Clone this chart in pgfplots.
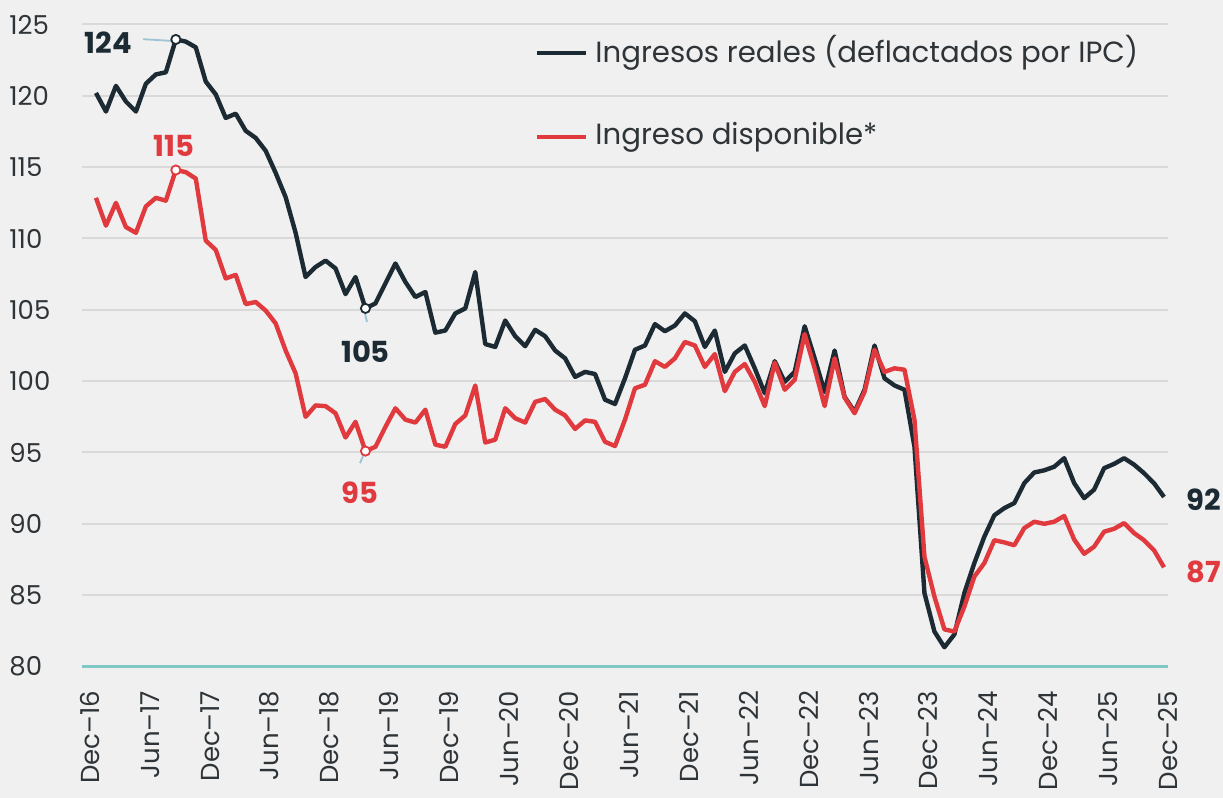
\documentclass[border=0pt]{standalone}
\usepackage{pgfplots}
\usepackage{pgfplotstable}
\pgfplotsset{compat=1.18}
\usepackage{fontspec}
\setmainfont{Poppins}
\definecolor{bg}{HTML}{F0F0F0}
\definecolor{dk}{HTML}{1C2B33}
\definecolor{rd}{HTML}{E03A3E}
\definecolor{gridc}{HTML}{D9D9D9}
\definecolor{tealc}{HTML}{80C8C6}
\definecolor{lead}{HTML}{9DC3D4}
\definecolor{txt}{HTML}{2E3438}

\pgfplotstableread{
i real disp
0 120.2 112.85
1 118.9 110.9
2 120.7 112.5
3 119.6 110.8
4 118.9 110.4
5 120.85 112.25
6 121.5 112.85
7 121.65 112.65
8 123.95 114.8
9 123.8 114.65
10 123.4 114.2
11 121.0 109.85
12 120.1 109.2
13 118.45 107.2
14 118.75 107.45
15 117.55 105.4
16 117.05 105.55
17 116.15 104.95
18 114.6 104.05
19 112.9 102.15
20 110.4 100.55
21 107.3 97.5
22 108.0 98.3
23 108.45 98.25
24 107.9 97.75
25 106.1 96.05
26 107.3 97.15
27 105.1 95.1
28 105.45 95.4
29 106.85 96.8
30 108.25 98.1
31 106.95 97.3
32 105.9 97.1
33 106.25 98.0
34 103.4 95.55
35 103.55 95.4
36 104.75 97.0
37 105.1 97.6
38 107.65 99.7
39 102.6 95.7
40 102.4 95.9
41 104.25 98.1
42 103.15 97.4
43 102.45 97.1
44 103.6 98.55
45 103.15 98.75
46 102.15 98.0
47 101.6 97.6
48 100.3 96.65
49 100.65 97.25
50 100.5 97.15
51 98.7 95.75
52 98.4 95.45
53 100.2 97.3
54 102.2 99.5
55 102.5 99.75
56 104.0 101.4
57 103.5 101.0
58 103.9 101.6
59 104.75 102.75
60 104.2 102.5
61 102.4 101.0
62 103.55 101.9
63 100.65 99.3
64 101.95 100.65
65 102.5 101.2
66 100.9 99.95
67 99.15 98.25
68 101.4 101.3
69 99.95 99.4
70 100.65 100.1
71 103.85 103.3
72 101.6 100.9
73 99.25 98.25
74 102.15 101.6
75 98.9 98.85
76 97.85 97.75
77 99.4 99.25
78 102.5 102.2
79 100.2 100.65
80 99.7 100.9
81 99.4 100.8
82 95.4 97.3
83 85.15 87.7
84 82.45 84.9
85 81.35 82.6
86 82.25 82.45
87 85.15 84.2
88 87.25 86.3
89 89.1 87.25
90 90.6 88.85
91 91.1 88.7
92 91.45 88.5
93 92.85 89.7
94 93.6 90.15
95 93.75 90.0
96 94.0 90.15
97 94.6 90.55
98 92.85 88.9
99 91.8 87.9
100 92.4 88.4
101 93.9 89.45
102 94.2 89.65
103 94.6 90.05
104 94.15 89.35
105 93.55 88.85
106 92.85 88.15
107 91.88 86.95
}\datatable

\begin{document}
\begin{tikzpicture}
\fill[bg] (-41pt,-65.75pt) rectangle (570.5pt,333.25pt);
\begin{axis}[
  name=ax, at={(0,0)}, anchor=south west,
  scale only axis, width=543pt, height=321pt,
  xmin=-1.4, xmax=107.4, ymin=80, ymax=125,
  ytick={85,90,...,125},
  extra y ticks={80},
  extra y tick style={grid=none},
  xtick={-0.6,5.4,11.4,17.4,23.4,29.4,35.4,41.4,47.4,53.4,59.4,65.4,71.4,77.4,83.4,89.4,95.4,101.4,107.4},
  xticklabels={Dec\textendash16,Jun\textendash17,Dec\textendash17,Jun\textendash18,Dec\textendash18,Jun\textendash19,Dec\textendash19,Jun\textendash20,Dec\textendash20,Jun\textendash21,Dec\textendash21,Jun\textendash22,Dec\textendash22,Jun\textendash23,Dec\textendash23,Jun\textendash24,Dec\textendash24,Jun\textendash25,Dec\textendash25},
  axis line style={draw=none},
  major tick length=0pt,
  ymajorgrids, grid style={gridc, line width=1pt},
  /pgf/number format/assume math mode=true,
  yticklabel style={anchor=west, inner sep=0pt, xshift=-36.5pt, font=\fontsize{13}{15}\selectfont, text=txt},
  xticklabel style={rotate=90, anchor=east, inner sep=0pt, font=\fontsize{13}{15}\selectfont, text=txt},
  xticklabel shift=12pt,
  clip=false,
]
\draw[tealc, line width=1.2pt] (axis cs:-1.4,80) -- (axis cs:107.4,80);
\addplot[dk, line width=2.2pt, line join=round] table[x=i,y=real]{\datatable};
\addplot[rd, line width=2.2pt, line join=round] table[x=i,y=disp]{\datatable};
% leaders
\draw[lead, line width=0.9pt] (axis cs:4.73,123.97) -- (axis cs:7.6,123.85);
\draw[lead, line width=0.9pt] (axis cs:26.95,104.75) -- (axis cs:27.15,104.15);
\draw[lead, line width=0.9pt] (axis cs:26.85,94.9) -- (axis cs:26.45,94.25);
\addplot[only marks, mark=*, mark size=2.3pt, mark options={fill=white, draw=dk, line width=0.9pt}] coordinates {(8,123.95) (27,105.1)};
\addplot[only marks, mark=*, mark size=2.3pt, mark options={fill=white, draw=rd, line width=0.9pt}] coordinates {(8,114.8) (27,95.1)};
% labels
\node[anchor=east, inner sep=0pt, text=dk, font=\fontsize{14.5}{16}\bfseries\selectfont] at (axis cs:3.62,123.7) {124};
\node[inner sep=0pt, text=rd, font=\fontsize{14.5}{16}\bfseries\selectfont] at (axis cs:7.8,116.52) {115};
\node[inner sep=0pt, text=dk, font=\fontsize{14.5}{16}\bfseries\selectfont] at (axis cs:27.0,102.07) {105};
\node[inner sep=0pt, text=rd, font=\fontsize{14.5}{16}\bfseries\selectfont] at (axis cs:26.45,92.16) {95};
\node[inner sep=0pt, text=dk, font=\fontsize{14.5}{16}\bfseries\selectfont] at (axis cs:111.0,91.67) {92};
\node[inner sep=0pt, text=rd, font=\fontsize{14.5}{16}\bfseries\selectfont] at (axis cs:111.0,86.63) {87};
% legend
\draw[dk, line width=2.2pt] (axis description cs:0.419,0.9556) -- (axis description cs:0.4641,0.9556);
\node[anchor=west, inner sep=0pt, text=txt, font=\fontsize{14.6}{17}\selectfont] at (axis description cs:0.4724,0.9556) {Ingresos reales (deflactados por IPC)};
\draw[rd, line width=2.2pt] (axis description cs:0.419,0.8248) -- (axis description cs:0.4641,0.8248);
\node[anchor=west, inner sep=0pt, text=txt, font=\fontsize{14.6}{17}\selectfont] at (axis description cs:0.4724,0.8248) {Ingreso disponible*};
\end{axis}
\pgfresetboundingbox
\path[use as bounding box] (-41pt,-65.75pt) rectangle (570.5pt,333.25pt);
\end{tikzpicture}
\end{document}
